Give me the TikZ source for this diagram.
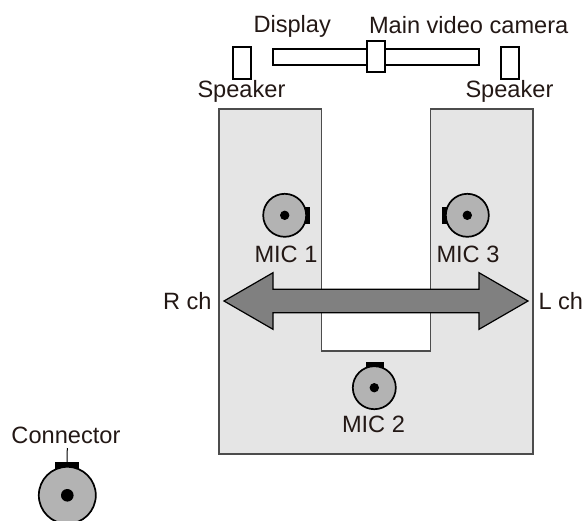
\documentclass[tikz,border=0pt]{standalone}
\usepackage{fontspec}
\setmainfont{Liberation Sans}
\definecolor{txt}{HTML}{231815}
\definecolor{bodyfill}{HTML}{E5E5E5}
\definecolor{micfill}{HTML}{B3B3B3}
\definecolor{arrowfill}{HTML}{808080}
\tikzset{
  label text/.style={anchor=base west,inner sep=0pt,outer sep=0pt,text=txt,font=\fontsize{23.6pt}{26pt}\selectfont},
  box/.style={draw=black,fill=white,line width=1.9pt,inner sep=0pt,outer sep=0pt},
  mic/.style={draw=black,fill=micfill,circle,line width=1.7pt,inner sep=0pt,outer sep=0pt,minimum size=#1},
  dot/.style={fill=black,circle,inner sep=0pt,outer sep=0pt,minimum size=#1},
  tab/.style={fill=black,inner sep=0pt,outer sep=0pt},
  body/.style={draw=black!70,fill=bodyfill,line width=1.2pt,line join=miter},
  bigarrow/.style={draw=black,fill=arrowfill,line width=1.2pt,line join=miter}
}
\begin{document}
\begin{tikzpicture}[x=1pt,y=-1pt]
\useasboundingbox (0,0) rectangle (584,520);
% body
\draw[body] (219,109) -- (321.5,109) -- (321.5,351) -- (430.5,351) -- (430.5,109) -- (533,109) -- (533,454) -- (219,454) -- cycle;
% display, camera, speakers
\node[box,minimum width=206pt,minimum height=16pt] (display) at (376,56.7) {};
\node[box,minimum width=18pt,minimum height=31.6pt] (camera) at (376,56.5) {};
\node[box,minimum width=18pt,minimum height=31.6pt] (spkL) at (241.8,62.8) {};
\node[box,minimum width=18pt,minimum height=31.6pt] (spkR) at (510.3,62.8) {};
% arrow
\draw[bigarrow] (224,301) -- (273,272.7) -- (273,289.3) -- (479,289.3) -- (479,272.7) -- (528,301) -- (479,329.3) -- (479,312.7) -- (273,312.7) -- (273,329.3) -- cycle;
% MIC 1
\node[tab,minimum width=5.5pt,minimum height=17.6pt] (tab1) at (307.5,215.5) {};
\node[mic=43pt] (mic1) at (284.7,215.3) {};
\node[dot=9.4pt] (dot1) at (mic1.center) {};
% MIC 3
\node[tab,minimum width=5.5pt,minimum height=17.6pt] (tab3) at (444.7,215.5) {};
\node[mic=43pt] (mic3) at (467.3,215.3) {};
\node[dot=9.4pt] (dot3) at (mic3.center) {};
% MIC 2
\node[tab,minimum width=18pt,minimum height=6pt] (tab2) at (375,364.7) {};
\node[mic=43pt] (mic2) at (374.3,387.7) {};
\node[dot=9.4pt] (dot2) at (mic2.center) {};
% Connector legend
\node[tab,minimum width=24pt,minimum height=8.5pt] (tab0) at (67,466) {};
\node[mic=57pt] (mic0) at (67.3,495.3) {};
\node[dot=12.6pt] (dot0) at (mic0.center) {};
% labels
\node[label text] (tDisplay) at (253.5,32.5) {Display};
\node[label text] (tCamera) at (369,33) {Main video camera};
\node[label text] (tSpkL) at (197.5,97.5) {Speaker};
\node[label text] (tSpkR) at (465.5,97.5) {Speaker};
\node[label text] (tM1) at (254.5,262) {MIC 1};
\node[label text] (tM3) at (436.5,262) {MIC 3};
\node[label text] (tM2) at (342,432) {MIC 2};
\node[label text] (tR) at (163,309) {R ch};
\node[label text] (tL) at (538.5,309) {L ch};
\node[label text] (tConn) at (11.5,443) {Connector};
% leader
\coordinate (leadtop) at (67.3,448);
\draw[line width=1pt,black] (leadtop) -- (tab0.north);
\end{tikzpicture}
\end{document}
